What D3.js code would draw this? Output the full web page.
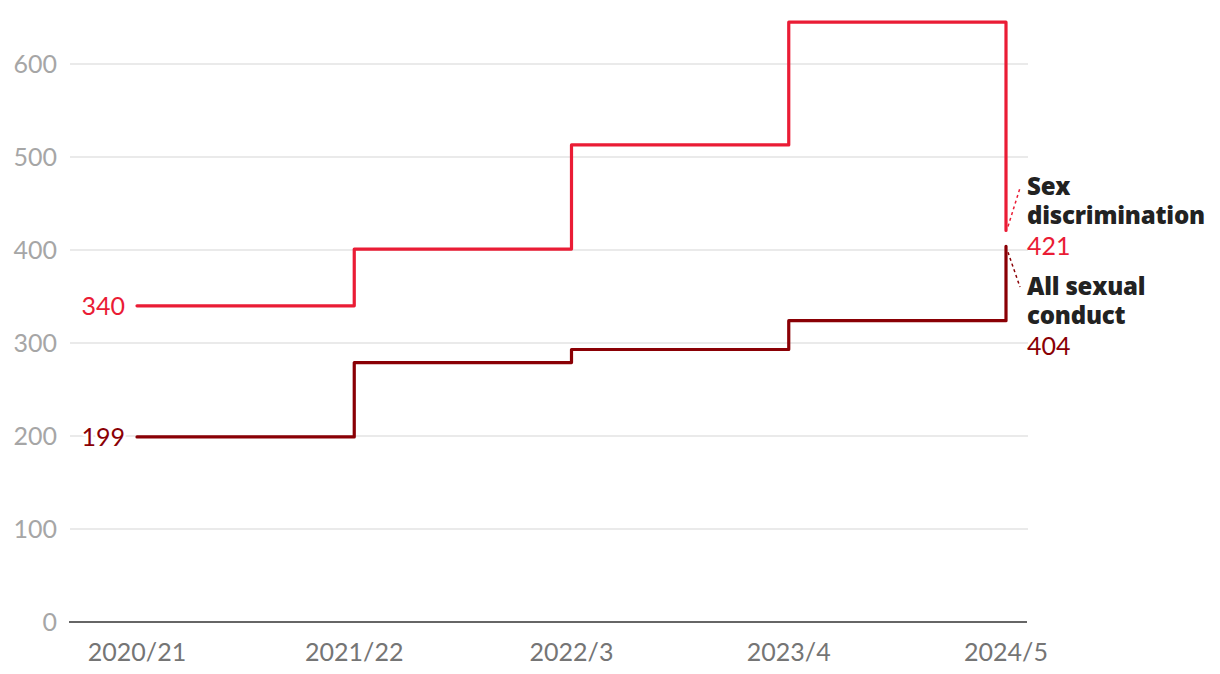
<!DOCTYPE html>
<html><head><meta charset="utf-8">
<script src="https://cdn.jsdelivr.net/npm/d3@7"></script>
<style>body{margin:0;background:#fff;}svg{display:block;font-family:Lato,"Open Sans",sans-serif;}</style>
</head><body>
<svg id="c" width="1220" height="674"></svg>
<script>
const categories = ["2020/21","2021/22","2022/3","2023/4","2024/5"];
const sexDiscrimination = [340, 401, 513, 645, 421];
const allSexualConduct = [199, 279, 293, 324, 404];
const yTicks = [0,100,200,300,400,500,600];

const svg = d3.select("#c");
const x = d3.scalePoint().domain(categories).range([137,1006]);
const y = d3.scaleLinear().domain([0,600]).range([622,64]);
const FS = 25;

svg.append("g").selectAll("line").data(yTicks.filter(d=>d>0)).join("line")
  .attr("x1",70).attr("x2",1028).attr("y1",d=>y(d)).attr("y2",d=>y(d))
  .attr("stroke","#e3e3e3").attr("stroke-width",1.5);
svg.append("g").selectAll("text").data(yTicks).join("text")
  .attr("x",57).attr("y",d=>y(d)).attr("dy","0.35em").attr("text-anchor","end")
  .attr("font-size",FS).attr("fill","#a6a6a6").text(d=>d);
svg.append("line").attr("x1",69).attr("x2",1027).attr("y1",y(0)).attr("y2",y(0))
  .attr("stroke","#333").attr("stroke-width",1.6);
svg.append("g").selectAll("text").data(categories).join("text")
  .attr("x",d=>x(d)).attr("y",652).attr("dy","0.35em").attr("text-anchor","middle")
  .attr("font-size",FS).attr("fill","#757575").text(d=>d);

const line = d3.line().x((d,i)=>x(categories[i])).y(d=>y(d)).curve(d3.curveStepAfter);
const series = [
  {vals: sexDiscrimination, color:"#ea1c35"},
  {vals: allSexualConduct, color:"#8a0005"}
];
series.forEach(s=>{
  svg.append("path").attr("d",line(s.vals)).attr("fill","none")
    .attr("stroke",s.color).attr("stroke-width",3.2)
    .attr("stroke-linejoin","round").attr("stroke-linecap","round");
  svg.append("text").attr("x",125).attr("y",y(s.vals[0])).attr("dy","0.35em")
    .attr("text-anchor","end").attr("font-size",FS).attr("fill",s.color)
    .attr("stroke","#fff").attr("stroke-width",5).attr("paint-order","stroke")
    .text(s.vals[0]);
});

const lx = 1027;
const n = categories.length-1;
function endLabel(lines, value, color, ys, leader){
  lines.forEach((t,i)=>{
    svg.append("text").attr("x",lx).attr("y",ys[i]).attr("dy","0.35em")
      .attr("font-family","'Open Sans',sans-serif").attr("letter-spacing",-0.2)
      .attr("font-size",24).attr("font-weight",800).attr("fill","#222").text(t);
  });
  svg.append("text").attr("x",lx).attr("y",ys[lines.length]).attr("dy","0.35em")
    .attr("font-size",FS).attr("fill",color).text(value);
  svg.append("line").attr("x1",leader[0]).attr("y1",leader[1]).attr("x2",leader[2]).attr("y2",leader[3])
    .attr("stroke",color).attr("stroke-width",1.5).attr("stroke-dasharray","3,3");
}
endLabel(["Sex","discrimination"], sexDiscrimination[n], "#ea1c35", [187,216,246],
  [x(categories[n])+2, y(sexDiscrimination[n])-4, 1020, 188]);
endLabel(["All sexual","conduct"], allSexualConduct[n], "#8a0005", [287,316,346],
  [x(categories[n])+2, y(allSexualConduct[n])+6, 1020, 287]);
</script>
</body></html>
